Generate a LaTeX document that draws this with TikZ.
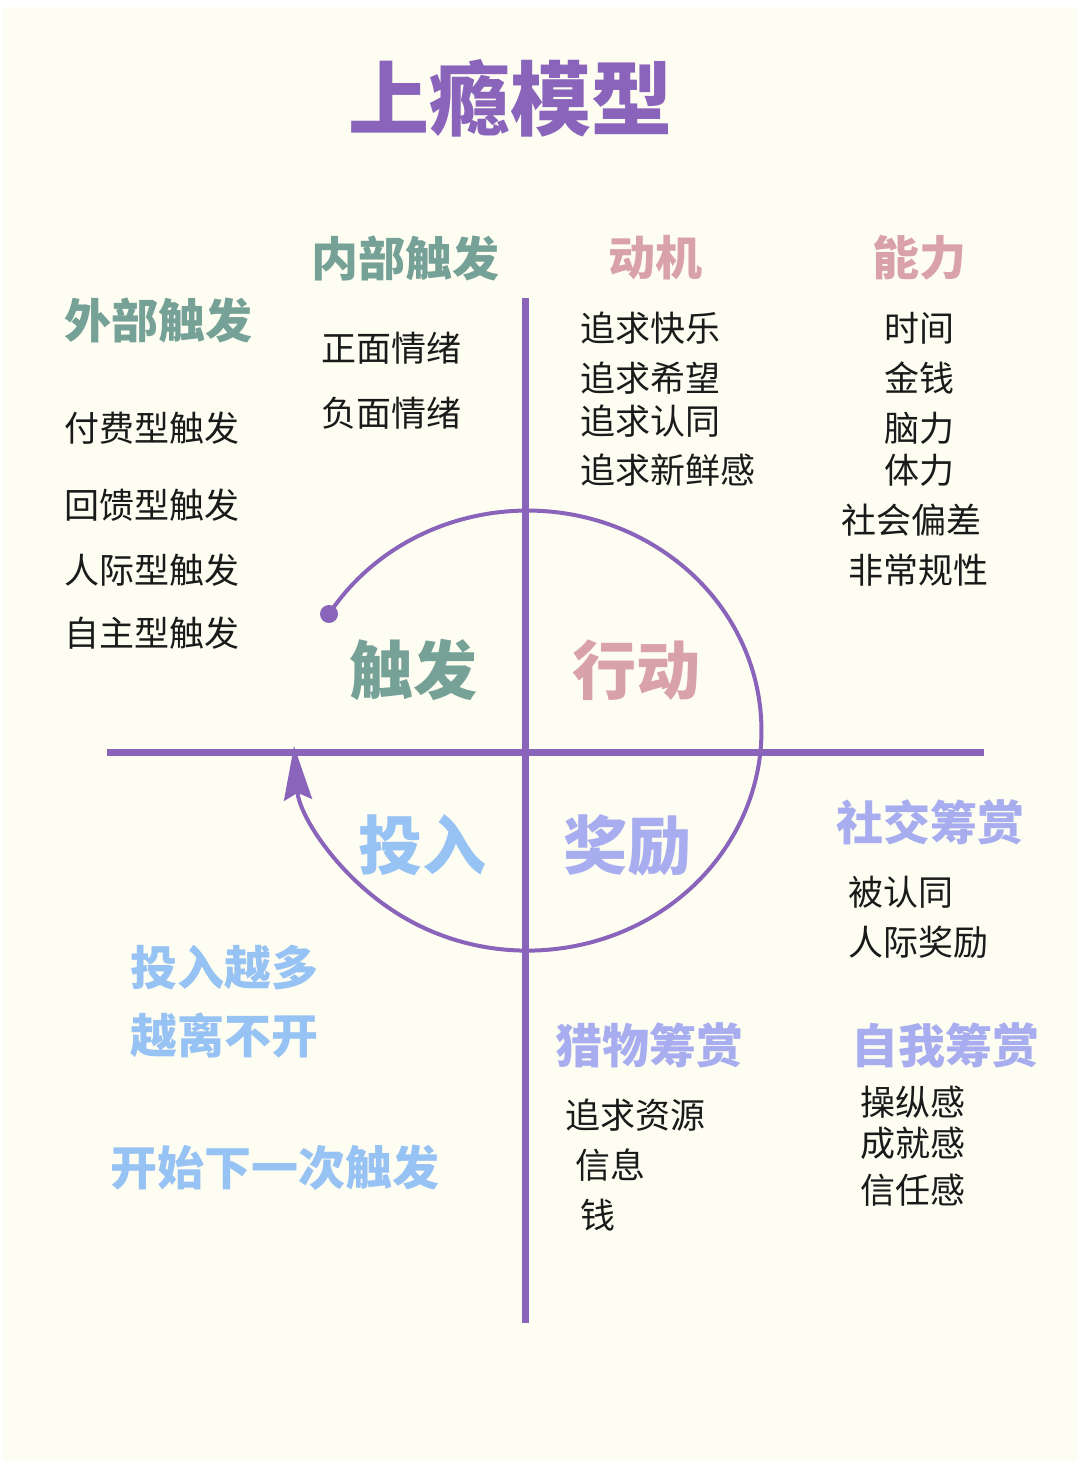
\documentclass[tikz,border=0pt]{standalone}
\usepackage{fontspec}
\newfontfamily\cjk{Noto Sans CJK SC}
\usetikzlibrary{arrows.meta}

\definecolor{linepurple}{HTML}{8A63BA}
\definecolor{trigteal}{HTML}{75A197}
\definecolor{actpink}{HTML}{D9A1A8}
\definecolor{investblue}{HTML}{97C2F4}
\definecolor{rewardlav}{HTML}{A7ADEF}
\definecolor{paper}{HTML}{FEFDF2}
\definecolor{ink}{HTML}{1A1A1A}

\begin{document}
\begin{tikzpicture}%
  [x=1pt,y=-1pt,
   heading/.style=
    {inner sep=0pt,font={\cjk\bfseries\fontsize{81}{90}\selectfont},text=linepurple},
   head/.style=
    {inner sep=0pt,anchor=west,font={\cjk\bfseries\fontsize{47}{54}\selectfont}},
   big/.style=
    {inner sep=0pt,anchor=west,font={\cjk\bfseries\fontsize{64}{72}\selectfont}},
   item/.style=
    {inner sep=0pt,anchor=west,text=ink,font={\cjk\fontsize{35}{40}\selectfont}},
   axis/.style={line width=7pt,draw=linepurple},
   loop/.style={line width=4pt,draw=linepurple,
    -{Stealth[length=54pt,width=28pt,inset=7pt]}}
  ]
  \useasboundingbox (0,0) rectangle (1080,1464);
  \fill[white] (0,0) rectangle (1080,1464);
  \fill[paper] (3,7) rectangle (1077,1461);

  % axes
  \coordinate (vtop) at (525,298);
  \coordinate (vbot) at (525,1323);
  \coordinate (hleft) at (107,752);
  \coordinate (hright) at (984,752);
  \draw[axis] (vtop) -- (vbot);
  \draw[axis] (hleft) -- (hright);

  % loop round the centre
  \coordinate (loopstart) at (329,614);
  \fill[linepurple] (loopstart) circle (9);
  \draw[loop] (loopstart) arc[start angle=212,end angle=536,x radius=234,y radius=220]
    coordinate (looptip);

  \node[heading] (title) at (510,98) {上瘾模型};

  % trigger
  \node[head,text=trigteal] (ext) at (64,320) {外部触发};
  \node[item] (ext1) at (64,428) {付费型触发};
  \node[item] (ext2) at (64,505) {回馈型触发};
  \node[item] (ext3) at (64,570) {人际型触发};
  \node[item] (ext4) at (64,633) {自主型触发};
  \node[head,text=trigteal] (int) at (311,258) {内部触发};
  \node[item] (int1) at (321,348) {正面情绪};
  \node[item] (int2) at (321,413) {负面情绪};
  \node[big,text=trigteal] (trig) at (349,670) {触发};

  % action
  \node[head,text=actpink] (motive) at (608,258) {动机};
  \node[item] (mot1) at (580,328) {追求快乐};
  \node[item] (mot2) at (580,378) {追求希望};
  \node[item] (mot3) at (580,421) {追求认同};
  \node[item] (mot4) at (580,470) {追求新鲜感};
  \node[head,text=actpink] (ability) at (872,258) {能力};
  \node[item] (abl1) at (884,328) {时间};
  \node[item] (abl2) at (884,378) {金钱};
  \node[item] (abl3) at (884,428) {脑力};
  \node[item] (abl4) at (884,470) {体力};
  \node[item] (abl5) at (841,520) {社会偏差};
  \node[item] (abl6) at (848,570) {非常规性};
  \node[big,text=actpink] (act) at (572,670) {行动};

  % reward
  \node[big,text=rewardlav] (reward) at (563,845) {奖励};
  \node[head,text=rewardlav] (social) at (836,822) {社交筹赏};
  \node[item] (soc1) at (848,892) {被认同};
  \node[item] (soc2) at (848,942) {人际奖励};
  \node[head,text=rewardlav] (hunt) at (555,1045) {猎物筹赏};
  \node[item] (hunt1) at (565,1115) {追求资源};
  \node[item] (hunt2) at (575,1165) {信息};
  \node[item] (hunt3) at (580,1215) {钱};
  \node[head,text=rewardlav] (self) at (851,1045) {自我筹赏};
  \node[item] (self1) at (860,1102) {操纵感};
  \node[item] (self2) at (860,1143) {成就感};
  \node[item] (self3) at (860,1190) {信任感};

  % investment
  \node[big,text=investblue] (invest) at (358,845) {投入};
  \node[head,text=investblue] (more1) at (130,968) {投入越多};
  \node[head,text=investblue] (more2) at (130,1035) {越离不开};
  \node[head,text=investblue] (next) at (110,1168) {开始下一次触发};
\end{tikzpicture}
\end{document}
